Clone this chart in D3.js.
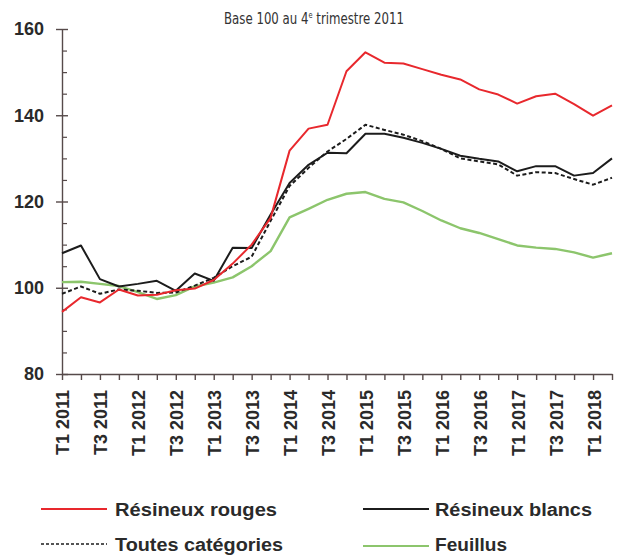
<!DOCTYPE html>
<html>
<head>
<meta charset="utf-8">
<script src="https://cdn.jsdelivr.net/npm/d3@7"></script>
<style>
  html, body { margin: 0; padding: 0; background: #ffffff; }
  svg { display: block; }
</style>
</head>
<body>
<svg id="chart" width="625" height="556"></svg>
<script>
// ---- Data ----
const quarters = [
  "T1 2011","T2 2011","T3 2011","T4 2011",
  "T1 2012","T2 2012","T3 2012","T4 2012",
  "T1 2013","T2 2013","T3 2013","T4 2013",
  "T1 2014","T2 2014","T3 2014","T4 2014",
  "T1 2015","T2 2015","T3 2015","T4 2015",
  "T1 2016","T2 2016","T3 2016","T4 2016",
  "T1 2017","T2 2017","T3 2017","T4 2017",
  "T1 2018","T2 2018"
];
const resineuxRouges = [94.4, 97.8, 96.6, 99.6, 98.2, 98.4, 99.4, 99.8, 101.8, 105.6,
  110.0, 116.2, 131.8, 136.9, 137.8, 150.2, 154.6, 152.2, 152.0, 150.7,
  149.4, 148.3, 146.0, 144.8, 142.7, 144.4, 145.0, 142.6, 139.9, 142.3];
const resineuxBlancs = [108.0, 109.8, 102.0, 100.3, 100.9, 101.6, 99.3, 103.3, 101.6, 109.3,
  109.2, 117.0, 124.3, 128.5, 131.3, 131.2, 135.7, 135.7, 134.8, 133.6,
  132.2, 130.6, 129.9, 129.3, 127.0, 128.2, 128.2, 126.0, 126.6, 130.0];
const toutesCategories = [98.6, 100.3, 98.6, 99.6, 99.3, 98.8, 98.9, 100.5, 102.3, 105.0,
  107.2, 115.5, 123.6, 127.8, 131.6, 134.5, 137.8, 136.6, 135.5, 134.0,
  132.2, 130.0, 129.3, 128.6, 126.0, 126.8, 126.6, 125.2, 123.9, 125.5];
const feuillus = [101.3, 101.4, 100.9, 100.4, 99.0, 97.4, 98.3, 100.3, 101.2, 102.4,
  105.0, 108.5, 116.3, 118.3, 120.4, 121.8, 122.2, 120.6, 119.8, 117.8,
  115.6, 113.8, 112.7, 111.3, 109.8, 109.3, 109.0, 108.2, 107.0, 108.0];
const yTicks = [80, 100, 120, 140, 160];
const yMinorTicks = [85, 90, 95, 105, 110, 115, 125, 130, 135, 145, 150, 155];
const titleMain = "Base 100 au 4";
const titleSup = "e";
const titleRest = " trimestre 2011";

const seriesDefs = [
  { name: "Résineux rouges",   values: resineuxRouges,   color: "#e8282d", width: 2,   dash: null },
  { name: "Résineux blancs",   values: resineuxBlancs,   color: "#1c1c1c", width: 2,   dash: null },
  { name: "Toutes catégories", values: toutesCategories, color: "#1c1c1c", width: 2,   dash: "4,2.5" },
  { name: "Feuillus",          values: feuillus,         color: "#8cc56c", width: 2.4, dash: null }
];

// ---- Layout ----
const svg = d3.select("#chart");
const x = d3.scaleLinear().domain([0, quarters.length - 1]).range([62, 612]);
const y = d3.scaleLinear().domain([80, 160]).range([374, 29]);
const axisColor = "#564a4a";
const textColor = "#2a2a2a";
const boldFont = "'Liberation Sans', Arial, sans-serif";

// Title (condensed look via horizontal scale)
const titleG = svg.append("g");
const title = titleG.append("text")
  .attr("x", 0).attr("y", 0)
  .attr("text-anchor", "start")
  .style("font-family", "'Liberation Sans Narrow', 'DejaVu Sans Condensed', sans-serif")
  .style("font-size", "16px")
  .style("fill", "#333");
title.append("tspan").text(titleMain);
title.append("tspan").attr("dy", -6).style("font-size", "9px").text(titleSup);
title.append("tspan").attr("dy", 6).text(titleRest);
const natW = title.node().getBBox().width;
const targetW = 180;
titleG.attr("transform", `translate(${314 - targetW / 2},24) scale(${targetW / natW},1)`);

// Y axis (labels + outward part of major ticks)
const yAxisG = svg.append("g").attr("transform", "translate(62,0)")
  .call(d3.axisLeft(y).tickValues(yTicks).tickSize(6).tickSizeOuter(0).tickPadding(12));
yAxisG.selectAll("text")
  .style("font-family", boldFont).style("font-size", "18px").style("font-weight", "bold")
  .style("fill", textColor);
yAxisG.selectAll("line, path").attr("stroke", axisColor).attr("stroke-width", 1.4);

// inward part of major ticks
svg.append("g").attr("transform", "translate(62,0)")
  .call(d3.axisRight(y).tickValues(yTicks).tickSize(6).tickSizeOuter(0).tickFormat(""))
  .call(g => g.select(".domain").remove())
  .selectAll("line").attr("stroke", axisColor).attr("stroke-width", 1.4);

// minor ticks (inside)
svg.append("g").attr("transform", "translate(62,0)")
  .call(d3.axisRight(y).tickValues(yMinorTicks).tickSize(5).tickSizeOuter(0).tickFormat(""))
  .call(g => g.select(".domain").remove())
  .selectAll("line").attr("stroke", axisColor).attr("stroke-width", 1.2);

// X axis
const xAxisG = svg.append("g").attr("transform", "translate(0,374)")
  .call(d3.axisBottom(x).tickValues(d3.range(quarters.length)).tickSize(6).tickSizeOuter(0).tickFormat(""));
xAxisG.selectAll("line, path").attr("stroke", axisColor).attr("stroke-width", 1.4);

// X labels (T1 and T3 only), rotated
svg.append("g").selectAll("text")
  .data(quarters.map((q, i) => ({ q, i })).filter(d => d.q.startsWith("T1") || d.q.startsWith("T3")))
  .join("text")
  .attr("transform", d => `translate(${x(d.i) + 1},390) rotate(-90)`)
  .attr("text-anchor", "end")
  .attr("dy", "0.36em")
  .style("font-family", boldFont).style("font-size", "18px").style("font-weight", "bold")
  .style("fill", textColor)
  .text(d => d.q);

// Lines
const line = d3.line().x((d, i) => x(i)).y(d => y(d));
const drawOrder = [3, 2, 1, 0];
drawOrder.forEach(k => {
  const s = seriesDefs[k];
  svg.append("path")
    .datum(s.values)
    .attr("d", line)
    .attr("fill", "none")
    .attr("stroke", s.color)
    .attr("stroke-width", s.width)
    .attr("stroke-linejoin", "round")
    .attr("stroke-dasharray", s.dash);
});

// Legend
const legendItems = [
  { s: seriesDefs[0], lx: 41,  ly: 509, tx: 115, ty: 516, w: 162 },
  { s: seriesDefs[1], lx: 363, ly: 509, tx: 435, ty: 516, w: 157 },
  { s: seriesDefs[2], lx: 41,  ly: 544, tx: 115, ty: 551, w: 168 },
  { s: seriesDefs[3], lx: 363, ly: 546, tx: 435, ty: 551, w: 72 }
];
const lg = svg.append("g");
legendItems.forEach(it => {
  lg.append("line")
    .attr("x1", it.lx).attr("x2", it.lx + 66)
    .attr("y1", it.ly).attr("y2", it.ly)
    .attr("stroke", it.s.color)
    .attr("stroke-width", it.s.dash ? 1.5 : 2)
    .attr("stroke-dasharray", it.s.dash ? "3,2" : null);
  lg.append("text")
    .attr("x", it.tx).attr("y", it.ty)
    .attr("textLength", it.w).attr("lengthAdjust", "spacingAndGlyphs")
    .style("font-family", boldFont).style("font-size", "18px").style("font-weight", "bold")
    .style("fill", textColor)
    .text(it.s.name);
});
</script>
</body>
</html>
